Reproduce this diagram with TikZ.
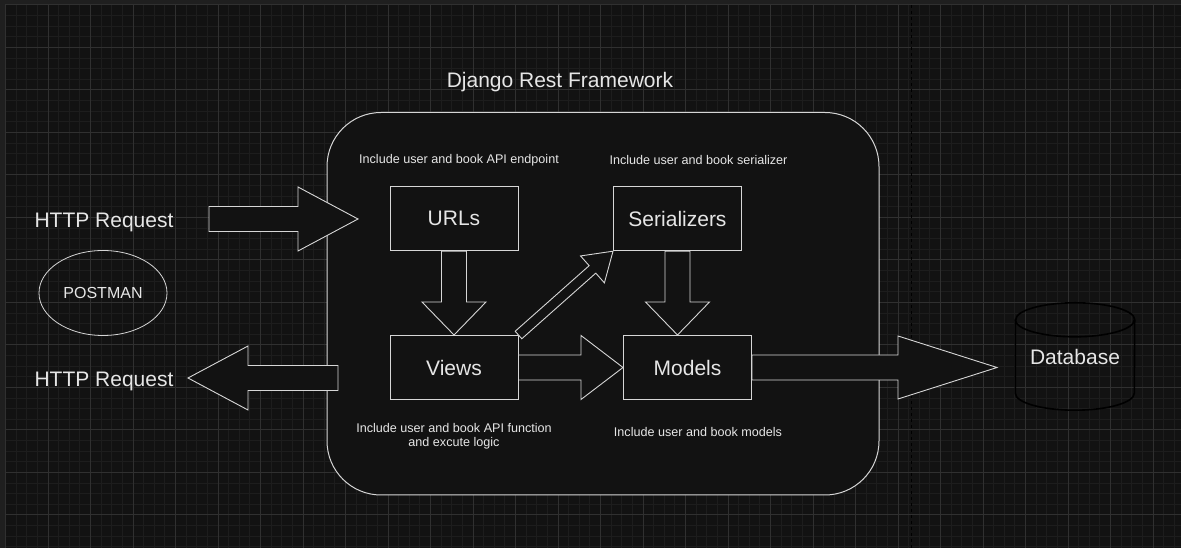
\documentclass[tikz,border=0pt]{standalone}
\usepackage{fontspec}
\setmainfont{Liberation Sans}
\usetikzlibrary{calc, shapes.geometric, positioning}

\definecolor{bgdark}{HTML}{121212}
\definecolor{frame}{HTML}{1F1F1F}
\definecolor{gridlo}{HTML}{1D1D1D}
\definecolor{gridhi}{HTML}{303030}
\definecolor{stroke}{HTML}{D6D6D6}
\definecolor{ink}{HTML}{E6E6E6}

\tikzset{
  blockarr/.style n args={3}{
    draw=stroke, fill=bgdark, line width=0.9pt, line join=miter,
    to path={let \p1=(\tikztostart), \p2=(\tikztotarget),
      \n1={atan2(\y2-\y1,\x2-\x1)}, \n2={veclen(\x2-\x1,\y2-\y1)} in
      ($(\p1)+(\n1+90:#1)$) -- ($(\p1)+(\n1:\n2-#3)+(\n1+90:#1)$)
      -- ($(\p1)+(\n1:\n2-#3)+(\n1+90:#2)$) -- (\p2)
      -- ($(\p1)+(\n1:\n2-#3)+(\n1-90:#2)$)
      -- ($(\p1)+(\n1:\n2-#3)+(\n1-90:#1)$)
      -- ($(\p1)+(\n1-90:#1)$) -- cycle}
  }
}

\begin{document}
\begin{tikzpicture}[
  x=1pt, y=1pt,
  box/.style={
    draw=stroke,
    line width=1pt,
    fill=bgdark,
    minimum width=128pt,
    minimum height=64pt,
    inner sep=0pt,
    text=ink,
    font=\fontsize{21}{25}\selectfont
  },
  bigtext/.style={text=ink, inner sep=0pt, font=\fontsize{21}{25}\selectfont},
  note/.style={text=ink, inner sep=0pt, align=center, font=\fontsize{12.6}{14}\selectfont},
  minorgrid/.style={draw=gridlo, line width=0.8pt},
  majorgrid/.style={draw=gridhi, line width=0.8pt},
  container/.style={draw=stroke, fill=bgdark, line width=1pt, rounded corners=54pt}
]

\useasboundingbox (0,0) rectangle (1181,548);
\fill[frame] (0,0) rectangle (1181,548);
\fill[bgdark] (5,0) rectangle (1181,544);

% grid
\begin{scope}[shift={(5.5,33.2)}]
  \draw[minorgrid, step=10.625pt] (-0.5,-33.2) grid (1175.5,510.8);
  \draw[majorgrid, step=42.5pt] (-0.5,-33.2) grid (1175.5,510.8);
\end{scope}
\draw[draw=gridhi!140, line width=0.8pt, dash pattern=on 3pt off 3pt] (911,0) -- (911,544);

\draw[container] (327,53) rectangle (879,435.5);
\node[bigtext] (title) at (560,465.5) {Django Rest Framework};

\node[note] (urlsnote) at (459,387.5) {Include user and book API endpoint};
\node[note] (serialnote) at (698.5,387.5) {Include user and book serializer};
\node[note] (viewsnote) at (454,111.5) {Include user and book API function\\and excute logic};
\node[note] (modelsnote) at (698,115.5) {Include user and book models};

\node[box] (urls) at (454,329.3) {URLs};
\node[box] (views) at (454,180.5) {Views};
\node[box] (serial) at (677.5,329.3) {Serializers};
\node[box] (models) at (687.5,180.5) {Models};

\node[ellipse, draw=stroke, line width=0.8pt, minimum width=128pt, minimum height=85pt,
  text=ink, font=\fontsize{16}{19}\selectfont] (postman) at (103,255) {POSTMAN};
\node[bigtext] (reqtop) at (104,326) {HTTP Request};
\node[bigtext] (reqbot) at (104,167) {HTTP Request};

\node[bigtext, minimum width=119pt, minimum height=107pt] (db) at (1075,191.5) {Database};
\draw[stroke, line width=1.6pt]
  ([yshift=-17pt]db.north west) -- ([yshift=17pt]db.south west)
  arc (180:360:59.5pt and 17pt) -- ([yshift=-17pt]db.north east)
  arc (0:180:59.5pt and 17pt) -- cycle;
\draw[stroke, line width=1.6pt] ([yshift=-17pt]db.north west) arc (180:360:59.5pt and 17pt);

\coordinate (reqinA) at (209,329);
\coordinate (reqinB) at (358,329);
\coordinate (reqoutA) at (338,170);
\coordinate (reqoutB) at (188,170);
\coordinate (dbin) at (997,180.5);

\draw[blockarr={12.5pt}{32pt}{60pt}] (reqinA) to (reqinB);
\draw[blockarr={12.5pt}{32pt}{60pt}] (reqoutA) to (reqoutB);
\draw[blockarr={12.5pt}{32pt}{33pt}] (urls.south) to (views.north);
\draw[blockarr={12.5pt}{32pt}{33pt}] (serial.south) to (serial.south |- models.north);
\draw[blockarr={12.5pt}{32pt}{42pt}] (views.east) to (models.west);
\draw[blockarr={5pt}{18pt}{27pt}] (views.north east) to (serial.south west);
\draw[blockarr={12.5pt}{31.5pt}{99pt}] (models.east) to (dbin);

\end{tikzpicture}
\end{document}
